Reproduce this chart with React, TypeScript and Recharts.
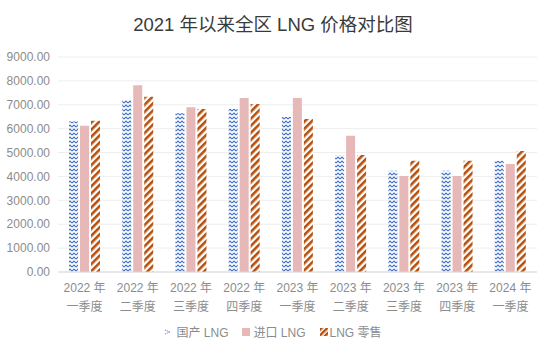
import { BarChart, Bar, XAxis, YAxis, CartesianGrid } from 'recharts';

const quarters = [
  '2022 年|一季度', '2022 年|二季度', '2022 年|三季度', '2022 年|四季度',
  '2023 年|一季度', '2023 年|二季度', '2023 年|三季度', '2023 年|四季度', '2024 年|一季度',
];
const domestic = [6300, 7200, 6650, 6820, 6490, 4900, 4240, 4240, 4660];
const imported = [6120, 7820, 6900, 7280, 7280, 5700, 4020, 4020, 4520];
const retail = [6330, 7340, 6820, 7030, 6400, 4900, 4660, 4660, 5060];
const yTicks = [0, 1000, 2000, 3000, 4000, 5000, 6000, 7000, 8000, 9000];

const data = quarters.map((q, i) => ({
  q,
  domestic: domestic[i],
  imported: imported[i],
  retail: retail[i],
}));

const FONT = '"Liberation Sans", "Noto Sans CJK SC", sans-serif';
const BLUE = '#4472c4';
const PINK = '#e6b9b8';
const BROWN = '#b54f0b';

const QuarterTick = ({ x, y, payload }: any) => {
  const [a, b] = String(payload.value).split('|');
  return (
    <text x={x} y={y} textAnchor="middle" fill="#8c8c8c" fontSize={12} fontFamily={FONT}>
      <tspan x={x} dy={12}>{a}</tspan>
      <tspan x={x} dy={19}>{b}</tspan>
    </text>
  );
};

const Swatch = ({ fill }: { fill: string }) => (
  <svg width={8} height={8} style={{ marginRight: 3 }}>
    <rect width={8} height={8} fill={fill} />
  </svg>
);

export default function App() {
  return (
    <div style={{ position: 'absolute', left: 0, top: 0, width: 546, height: 352, background: '#fff', fontFamily: FONT }}>
      <div style={{ position: 'absolute', top: 10, width: 546, textAlign: 'center', fontSize: 18.5, color: '#3a3a3a' }}>
        2021 年以来全区 LNG 价格对比图
      </div>
      <BarChart
        width={546}
        height={352}
        data={data}
        margin={{ top: 57, right: 9, left: 0, bottom: 40 }}
        barSize={9}
        barGap={2}
        barCategoryGap={8}
      >
        <defs>
          <pattern id="wave" width={4} height={4} patternUnits="userSpaceOnUse">
            <path d="M0,3 L2,1 L4,3" stroke={BLUE} strokeWidth={1.1} fill="none" />
          </pattern>
          <pattern id="stripe" width={5} height={5} patternUnits="userSpaceOnUse" patternTransform="rotate(45)">
            <rect width={5} height={5} fill="#fff" />
            <rect width={2.6} height={5} fill={BROWN} />
          </pattern>
        </defs>
        <CartesianGrid vertical={false} stroke="#eeeeee" />
        <XAxis
          dataKey="q"
          height={40}
          interval={0}
          tick={<QuarterTick />}
          tickLine={false}
          axisLine={{ stroke: '#d9d9d9' }}
        />
        <YAxis
          width={58}
          domain={[0, 9000]}
          ticks={yTicks}
          tickFormatter={(v: number) => v.toFixed(2)}
          tick={{ fill: '#8c8c8c', fontSize: 12, fontFamily: FONT }}
          axisLine={false}
          tickLine={false}
        />
        <Bar dataKey="domestic" name="国产 LNG" fill="url(#wave)" isAnimationActive={false} />
        <Bar dataKey="imported" name="进口 LNG" fill={PINK} isAnimationActive={false} />
        <Bar dataKey="retail" name="LNG 零售" fill="url(#stripe)" isAnimationActive={false} />
      </BarChart>
      <div
        style={{
          position: 'absolute', top: 323, width: 546, display: 'flex', justifyContent: 'center',
          gap: 14, fontSize: 12, color: '#8c8c8c', alignItems: 'center',
        }}
      >
        <span style={{ display: 'flex', alignItems: 'center' }}>
          <svg width={8} height={8} style={{ marginRight: 4 }}>
            <path d="M1,2 L6,4 L1,6" stroke={BLUE} strokeWidth={1} fill="none" strokeDasharray="1 1" />
          </svg>
          国产 LNG
        </span>
        <span style={{ display: 'flex', alignItems: 'center' }}>
          <Swatch fill={PINK} />
          进口 LNG
        </span>
        <span style={{ display: 'flex', alignItems: 'center' }}>
          <svg width={8} height={8} style={{ marginRight: 2 }}>
            <rect width={8} height={8} fill="url(#stripeLeg)" />
            <defs>
              <pattern id="stripeLeg" width={4} height={4} patternUnits="userSpaceOnUse" patternTransform="rotate(45)">
                <rect width={4} height={4} fill="#fff" />
                <rect width={2.5} height={4} fill={BROWN} />
              </pattern>
            </defs>
          </svg>
          LNG 零售
        </span>
      </div>
    </div>
  );
}
